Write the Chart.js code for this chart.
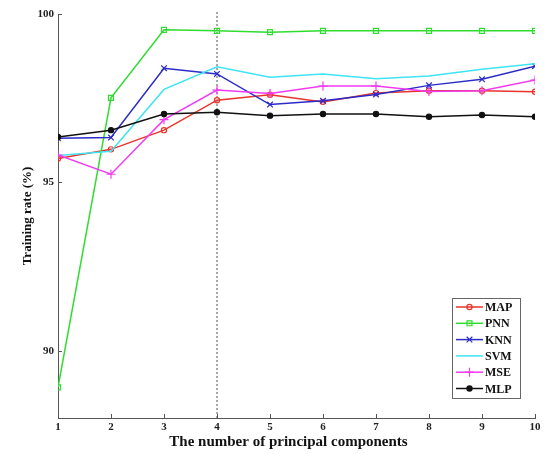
<!DOCTYPE html>
<html>
<head>
<meta charset="utf-8">
<script src="https://cdn.jsdelivr.net/npm/chart.js@4/dist/chart.umd.min.js"></script>
<style>
html,body{margin:0;padding:0;background:#fff;}
#wrap{width:548px;height:454px;}
</style>
</head>
<body>
<div id="wrap"><canvas id="c" width="548" height="454"></canvas></div>
<script>
const components = [1,2,3,4,5,6,7,8,9,10];
const yTickValues = [90,95,100];
const markerComponent = 4;
const seriesNames = ['MAP','PNN','KNN','SVM','MSE','MLP'];
const mapRate = [95.71, 95.98, 96.55, 97.44, 97.60, 97.39, 97.65, 97.72, 97.72, 97.69];
const pnnRate = [88.91, 97.51, 99.53, 99.50, 99.46, 99.50, 99.50, 99.50, 99.50, 99.50];
const knnRate = [96.31, 96.33, 98.39, 98.22, 97.31, 97.42, 97.61, 97.88, 98.06, 98.45];
const svmRate = [95.80, 95.92, 97.76, 98.43, 98.12, 98.22, 98.08, 98.16, 98.36, 98.52];
const mseRate = [95.81, 95.24, 96.86, 97.74, 97.64, 97.86, 97.86, 97.70, 97.72, 98.04];
const mlpRate = [96.35, 96.55, 97.03, 97.08, 96.98, 97.03, 97.03, 96.95, 97.00, 96.95];

const SERIF = "'Liberation Serif','Times New Roman',serif";
const xTitle = 'The number of principal components';

const styles = [
  {color:'#e8342a', pointStyle:'circle', radius:2.6, fill:false},
  {color:'#2fdc2f', pointStyle:'rect', radius:3.5, fill:false},
  {color:'#2b2bc8', pointStyle:'crossRot', radius:4, fill:false},
  {color:'#3fe4f2', pointStyle:false, radius:0, fill:false},
  {color:'#f03cf0', pointStyle:'cross', radius:4.5, fill:false},
  {color:'#111111', pointStyle:'circle', radius:2.6, fill:true}
];
const values = [mapRate, pnnRate, knnRate, svmRate, mseRate, mlpRate];

const datasets = seriesNames.map((name, i) => ({
  label: name,
  data: values[i],
  borderColor: styles[i].color,
  backgroundColor: styles[i].fill ? styles[i].color : 'rgba(0,0,0,0)',
  pointBorderColor: styles[i].color,
  pointBackgroundColor: styles[i].fill ? styles[i].color : 'rgba(0,0,0,0)',
  pointStyle: styles[i].pointStyle || 'circle',
  pointRadius: styles[i].radius,
  pointBorderWidth: 1.2,
  borderWidth: 1.5,
  tension: 0,
  fill: false,
  order: seriesNames.length - 1 - i
}));

const extras = {
  id: 'extras',
  beforeDatasetsDraw(chart) {
    const ctx = chart.ctx, x = chart.scales.x, a = chart.chartArea;
    const px = x.getPixelForValue(markerComponent);
    ctx.save();
    ctx.strokeStyle = '#a8a8a8';
    ctx.lineWidth = 2;
    ctx.setLineDash([2,2]);
    ctx.beginPath();
    ctx.moveTo(px, a.top - 2);
    ctx.lineTo(px, a.bottom);
    ctx.stroke();
    ctx.restore();
  },
  afterDatasetsDraw(chart) {
    const ctx = chart.ctx, x = chart.scales.x, y = chart.scales.y, a = chart.chartArea;
    ctx.save();
    // inward tick marks
    ctx.strokeStyle = '#555';
    ctx.lineWidth = 1;
    ctx.beginPath();
    x.ticks.forEach(t => {
      const p = Math.round(x.getPixelForValue(t.value)) + 0.5;
      ctx.moveTo(p, a.bottom); ctx.lineTo(p, a.bottom - 4);
    });
    y.ticks.forEach(t => {
      const p = Math.round(y.getPixelForValue(t.value)) + 0.5;
      ctx.moveTo(a.left, p); ctx.lineTo(a.left + 4, p);
    });
    ctx.stroke();

    // x-axis title (slightly left of centre, as in the original)
    ctx.fillStyle = '#111';
    ctx.font = 'bold 15px ' + SERIF;
    ctx.textAlign = 'center';
    ctx.textBaseline = 'middle';
    ctx.fillText(xTitle, (a.left + a.right) / 2 - 8, a.bottom + 24);

    // legend box
    const bx = a.right - 83, by = a.bottom - 120, bw = 68, bh = 100;
    ctx.fillStyle = '#fff';
    ctx.fillRect(bx, by, bw, bh);
    ctx.strokeStyle = '#666';
    ctx.lineWidth = 1;
    ctx.strokeRect(bx + 0.5, by + 0.5, bw, bh);
    const rowH = 16.3;
    ctx.font = 'bold 12px ' + SERIF;
    ctx.textBaseline = 'middle';
    chart.data.datasets.forEach((ds, i) => {
      const cy = by + 9 + i * rowH;
      const x0 = bx + 4, x1 = bx + 31, xm = (x0 + x1) / 2;
      ctx.strokeStyle = ds.borderColor;
      ctx.lineWidth = 1.5;
      ctx.beginPath(); ctx.moveTo(x0, cy); ctx.lineTo(x1, cy); ctx.stroke();
      if (ds.pointRadius > 0) {
        ctx.fillStyle = ds.pointBackgroundColor;
        ctx.lineWidth = 1.2;
        Chart.helpers.drawPoint(ctx, {pointStyle: ds.pointStyle, radius: ds.pointRadius, borderWidth: 1.2}, xm, cy);
      }
      ctx.fillStyle = '#111';
      ctx.textAlign = 'left';
      ctx.fillText(ds.label, x1 + 2, cy + 1);
    });
    ctx.restore();
  }
};

new Chart(document.getElementById('c'), {
  type: 'line',
  data: { labels: components, datasets },
  options: {
    responsive: false,
    devicePixelRatio: 1,
    animation: false,
    layout: { padding: { top: 14, right: 13, left: 0, bottom: 0 } },
    plugins: { legend: { display: false }, tooltip: { enabled: false } },
    scales: {
      x: {
        type: 'linear', min: 1, max: 10,
        afterFit(s) { s.height = 36; },
        afterBuildTicks(s) { s.ticks = components.map(v => ({value: v})); },
        grid: { display: false, drawTicks: false },
        border: { display: true, color: '#555', width: 1 },
        ticks: { padding: 3, color: '#222', font: { family: SERIF, weight: 'bold', size: 11 }, maxRotation: 0 },
        title: { display: false }
      },
      y: {
        min: 88, max: 100,
        afterFit(s) { s.width = 58; },
        afterBuildTicks(s) { s.ticks = yTickValues.map(v => ({value: v})); },
        grid: { display: false, drawTicks: false },
        border: { display: true, color: '#555', width: 1 },
        ticks: { padding: 4, color: '#222', font: { family: SERIF, weight: 'bold', size: 11 } },
        title: { display: true, text: 'Training rate (%)', color: '#111',
                 font: { family: SERIF, weight: 'bold', size: 13 }, padding: { top: 20, bottom: 0 } }
      }
    }
  },
  plugins: [extras]
});
</script>
</body>
</html>
